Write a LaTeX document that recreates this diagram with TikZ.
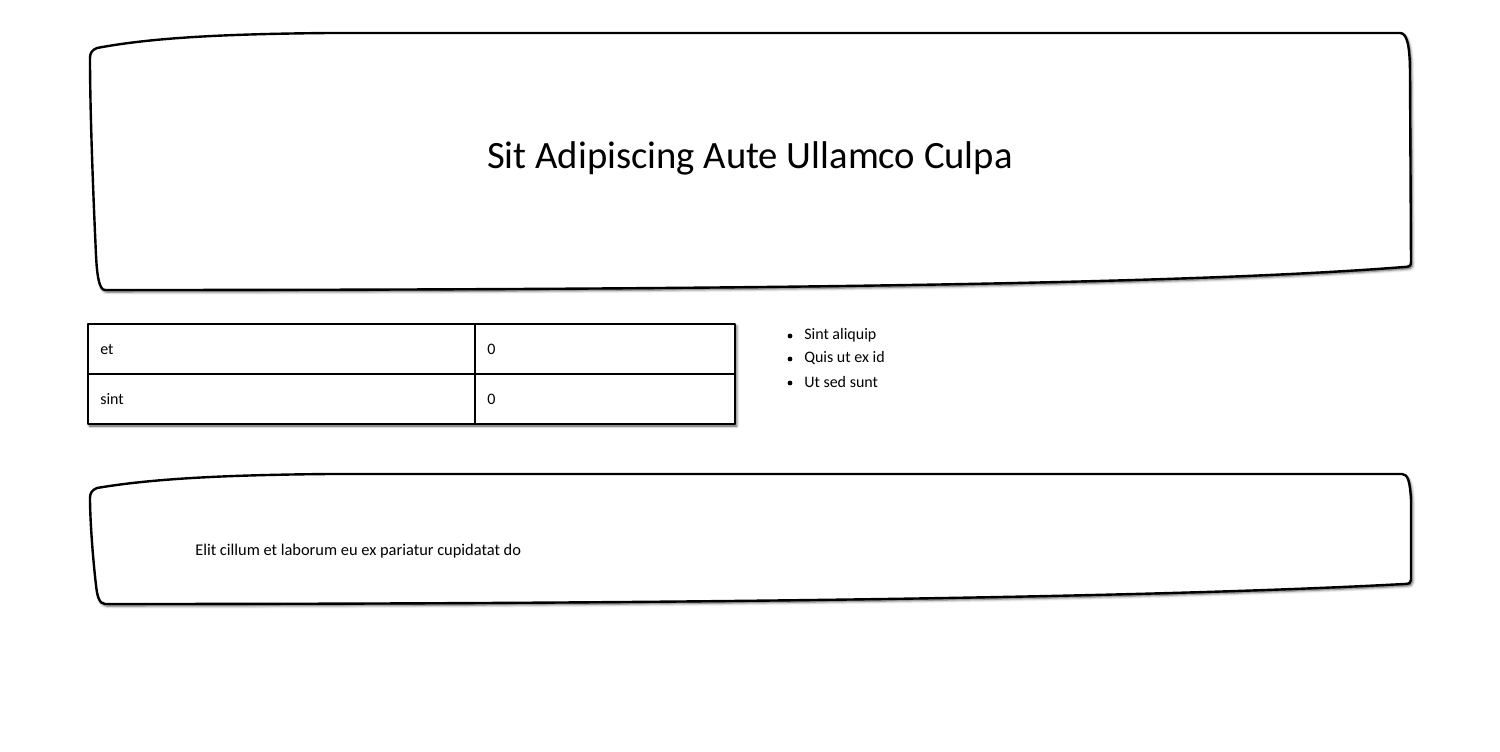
\documentclass[tikz,border=0pt]{standalone}
\usepackage{fontspec}
\setmainfont{Carlito}
\usetikzlibrary{shadows.blur}
\tikzset{
  sketchbox/.style={line width=1.8pt, line join=round, fill=white,
    blur shadow={shadow xshift=1.2pt, shadow yshift=-1.5pt, shadow blur radius=2pt, shadow opacity=70}},
  gridline/.style={line width=1.5pt},
  celltext/.style={anchor=west, inner sep=0pt, font=\fontsize{12}{14}\selectfont},
}
\begin{document}
\begin{tikzpicture}[x=0.75pt,y=-0.75pt]
\useasboundingbox (0,0) rectangle (1500,752);
\draw[sketchbox] (90,58) .. controls (90,53) and (92,50) .. (97,48) .. controls (150,38) and (220,34) .. (330,33) -- (1400,33) .. controls (1407,33) and (1410,45) .. (1410,75) -- (1411,262) .. controls (1411,266) and (1409,267) .. (1404,267) .. controls (1200,283) and (800,290) .. (105,290) .. controls (99,290) and (97,275) .. (96,255) .. controls (93,190) and (90,110) .. cycle;
\node[font=\fontsize{29}{34}\selectfont] (title) at (750,158) {Sit Adipiscing Aute Ullamco Culpa};
\draw[sketchbox,line width=1.9pt] (88,324) rectangle (735,424);
\draw[gridline] (88,374) -- (735,374);
\draw[gridline] (475,324) -- (475,424);
\node[celltext] (et) at (100,349) {et};
\node[celltext] (sint) at (100,399) {sint};
\node[celltext] (etval) at (487,349) {0};
\node[celltext] (sintval) at (487,399) {0};
\foreach \y/\t [count=\i] in {335/Sint aliquip,358/Quis ut ex id,382/Ut sed sunt}{
  \fill (790,\y+1) circle (2.4);
  \node[celltext] (item\i) at (804,\y) {\t};
}
\draw[sketchbox] (90,498) .. controls (90,493) and (92,490) .. (97,488) .. controls (150,479) and (220,475) .. (330,474) -- (1402,474) .. controls (1408,474) and (1410,482) .. (1411,500) -- (1411,580) .. controls (1411,583) and (1409,584) .. (1404,584) .. controls (1200,595) and (800,604) .. (105,604) .. controls (99,604) and (97,595) .. (96,585) .. controls (93,560) and (90,520) .. cycle;
\node[celltext,font=\fontsize{12.3}{14}\selectfont] (note) at (195,551) {Elit cillum et laborum eu ex pariatur cupidatat do};
\end{tikzpicture}
\end{document}
